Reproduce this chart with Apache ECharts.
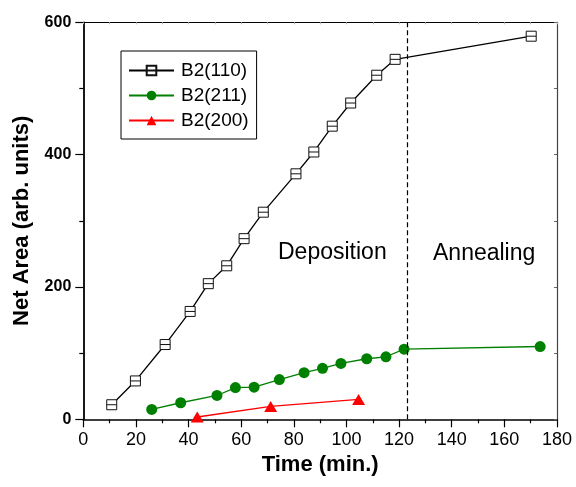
<!DOCTYPE html>
<html>
<head>
<meta charset="utf-8">
<script src="https://cdn.jsdelivr.net/npm/echarts@6/dist/echarts.min.js"></script>
<style>
  html, body { margin: 0; padding: 0; background: #fff; }
  #chart { width: 576px; height: 487px; }
</style>
</head>
<body>
<div id="chart"></div>
<script>
// Net area of the B2 reflections versus time (deposition, then annealing)
const seriesNames = ['B2(110)', 'B2(211)', 'B2(200)'];

const time110 = [10.8, 19.8, 31.1, 40.6, 47.5, 54.5, 61.1, 68.4, 80.8, 87.6, 94.6, 101.6, 111.5, 118.5, 170.2];
const area110 = [22, 58, 113, 163, 205, 232, 273, 313, 371, 404, 443, 478, 520, 544, 579];

const time211 = [26, 37, 50.8, 57.8, 64.9, 74.5, 83.9, 90.9, 97.9, 107.7, 115, 121.9, 173.6];
const area211 = [15, 25, 36, 48, 48.5, 60, 70.5, 77, 84.5, 91.5, 94.5, 106, 110];

const time200 = [43.3, 71.2, 104.6];
const area200 = [3.5, 19.5, 30];

const annealStart = 123;   // end of deposition, start of annealing (min.)

const xTicks = { min: 0, max: 180, interval: 20 };
const yTicks = { min: 0, max: 600, interval: 200 };

const pairs = (xs, ys) => xs.map((x, i) => [x, ys[i]]);

const FONT = 'Liberation Sans, Arial, Helvetica, sans-serif';
const squareSym = 'path://M0,0H10V10H0ZM0,5H10';

const chart = echarts.init(document.getElementById('chart'), null, { renderer: 'canvas' });

chart.setOption({
  animation: false,
  backgroundColor: '#fff',
  grid: { left: 83.3, right: 19, top: 22.3, bottom: 67.7 },
  legend: {
    data: seriesNames,
    orient: 'vertical',
    left: 121,
    top: 51,
    padding: [10, 8, 9, 7],
    itemGap: 6,
    itemWidth: 45,
    itemHeight: 12,
    borderColor: '#000',
    borderWidth: 1,
    borderRadius: 0,
    textStyle: { fontFamily: FONT, fontSize: 19, color: '#000', lineHeight: 19, padding: [0, 0, 0, 2] }
  },
  xAxis: [{
    type: 'value',
    min: xTicks.min, max: xTicks.max, interval: xTicks.interval,
    name: 'Time (min.)',
    nameLocation: 'middle',
    nameGap: 34,
    nameTextStyle: { fontFamily: FONT, fontSize: 22, fontWeight: 'bold', color: '#000' },
    axisLine: { show: true, onZero: false, lineStyle: { color: '#000', width: 1.5 } },
    axisTick: { show: true, inside: false, length: 8, lineStyle: { color: '#000', width: 1.2 } },
    minorTick: { show: true, splitNumber: 2, length: 4, lineStyle: { color: '#000', width: 1.2 } },
    axisLabel: { fontFamily: FONT, fontSize: 18, color: '#000', margin: 12 },
    splitLine: { show: false }
  }, {
    type: 'value', position: 'top',
    min: xTicks.min, max: xTicks.max, interval: 10,
    axisLine: { show: true, onZero: false, lineStyle: { color: '#000', width: 1.2 } },
    axisTick: { show: true, inside: true, length: 2, lineStyle: { color: '#bbb' } },
    axisLabel: { show: false },
    splitLine: { show: false }
  }],
  yAxis: [{
    type: 'value',
    min: yTicks.min, max: yTicks.max, interval: yTicks.interval,
    name: 'Net Area (arb. units)',
    nameLocation: 'middle',
    nameGap: 50,
    nameTextStyle: { fontFamily: FONT, fontSize: 22, fontWeight: 'bold', color: '#000' },
    axisLine: { show: true, onZero: false, lineStyle: { color: '#000', width: 1.8 } },
    axisTick: { show: true, inside: false, length: 8, lineStyle: { color: '#000', width: 1.2 } },
    minorTick: { show: true, splitNumber: 2, length: 4, lineStyle: { color: '#000', width: 1.2 } },
    axisLabel: { fontFamily: FONT, fontSize: 16, fontWeight: 'bold', color: '#000', margin: 12 },
    splitLine: { show: false }
  }, {
    type: 'value', position: 'right',
    min: yTicks.min, max: yTicks.max, interval: 100,
    axisLine: { show: true, onZero: false, lineStyle: { color: '#444', width: 1.2 } },
    axisTick: { show: true, inside: true, length: 3, lineStyle: { color: '#666' } },
    axisLabel: { show: false },
    splitLine: { show: false }
  }],
  graphic: [
    { type: 'text', left: 278, top: 241,
      style: { text: 'Deposition', fontFamily: FONT, fontSize: 23, fill: '#000' } },
    { type: 'text', left: 433, top: 242,
      style: { text: 'Annealing', fontFamily: FONT, fontSize: 23, fill: '#000' } }
  ],
  series: [{
    name: seriesNames[0],
    type: 'line',
    data: pairs(time110, area110),
    symbol: squareSym,
    symbolSize: 10,
    itemStyle: { color: '#fff', borderColor: '#111', borderWidth: 1 },
    lineStyle: { color: '#000', width: 1.3 },
    markLine: {
      silent: true,
      symbol: 'none',
      label: { show: false },
      lineStyle: { color: '#000', type: [5, 3], width: 1.2 },
      data: [{ xAxis: annealStart }]
    },
    z: 3
  }, {
    name: seriesNames[1],
    type: 'line',
    data: pairs(time211, area211),
    symbol: 'circle',
    symbolSize: 11,
    itemStyle: { color: '#008000' },
    lineStyle: { color: '#008000', width: 1.3 },
    z: 3
  }, {
    name: seriesNames[2],
    type: 'line',
    data: pairs(time200, area200),
    symbol: 'triangle',
    symbolSize: [13, 11],
    itemStyle: { color: '#ff0000' },
    lineStyle: { color: '#ff0000', width: 1.3 },
    z: 3
  }]
});
</script>
</body>
</html>
